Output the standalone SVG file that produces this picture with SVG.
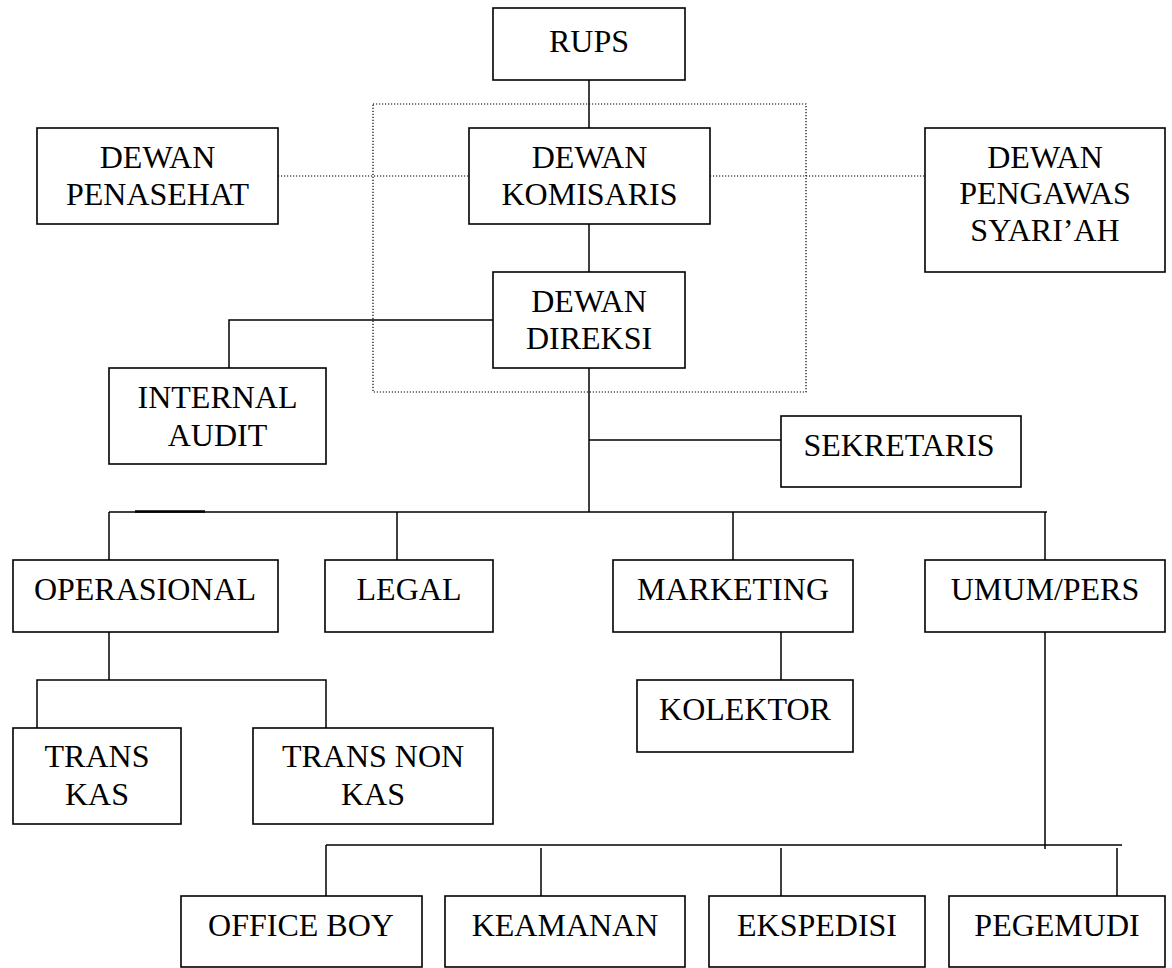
<svg xmlns="http://www.w3.org/2000/svg" width="1172" height="968" viewBox="0 0 1172 968">
<style>
.box{fill:#fff;stroke:#000;stroke-width:1.6}
.t{font-family:"Liberation Serif","Times New Roman",serif;font-size:32px;fill:#000;text-anchor:middle}
.ln{stroke:#000;stroke-width:1.5;fill:none}
.dot{stroke:#000;stroke-width:1.2;fill:none;stroke-dasharray:1.2 1.8}
</style>
<rect width="1172" height="968" fill="#fff"/>
<g id="connectors">
<rect class="dot" x="373" y="104" width="433" height="288"/>
<line class="dot" x1="278" y1="176" x2="469" y2="176"/>
<line class="dot" x1="710" y1="176" x2="925" y2="176"/>
<line class="ln" x1="589" y1="80" x2="589" y2="128"/>
<line class="ln" x1="589" y1="224" x2="589" y2="272"/>
<polyline class="ln" points="493,320 229,320 229,368"/>
<line class="ln" x1="589" y1="368" x2="589" y2="512"/>
<line class="ln" x1="589" y1="440" x2="781" y2="440"/>
<line class="ln" x1="109" y1="512" x2="1047" y2="512"/>
<line stroke="#000" stroke-width="2.6" x1="135" y1="511.5" x2="205" y2="511.5"/>
<line class="ln" x1="109" y1="512" x2="109" y2="560"/>
<line class="ln" x1="397" y1="512" x2="397" y2="560"/>
<line class="ln" x1="733" y1="512" x2="733" y2="560"/>
<line class="ln" x1="1045" y1="512" x2="1045" y2="560"/>
<line class="ln" x1="109" y1="632" x2="109" y2="680"/>
<polyline class="ln" points="37,728 37,680 326,680 326,728"/>
<line class="ln" x1="781" y1="632" x2="781" y2="680"/>
<line class="ln" x1="1045" y1="632" x2="1045" y2="849"/>
<line class="ln" x1="326" y1="845" x2="1122" y2="845"/>
<line class="ln" x1="326" y1="845" x2="326" y2="896"/>
<line class="ln" x1="541" y1="848" x2="541" y2="896"/>
<line class="ln" x1="781" y1="848" x2="781" y2="896"/>
<line class="ln" x1="1117" y1="848" x2="1117" y2="896"/>
</g>
<g id="rups"><rect class="box" x="493" y="8" width="192" height="72"/><text class="t" x="589" y="52">RUPS</text></g>
<g id="penasehat"><rect class="box" x="37" y="128" width="241" height="96"/><text class="t" x="157.5" y="168">DEWAN</text><text class="t" x="157.5" y="205">PENASEHAT</text></g>
<g id="komisaris"><rect class="box" x="469" y="128" width="241" height="96"/><text class="t" x="589.5" y="168">DEWAN</text><text class="t" x="589.5" y="205">KOMISARIS</text></g>
<g id="pengawas"><rect class="box" x="925" y="128" width="240" height="144"/><text class="t" x="1045" y="168">DEWAN</text><text class="t" x="1045" y="204">PENGAWAS</text><text class="t" x="1045" y="241">SYARI’AH</text></g>
<g id="direksi"><rect class="box" x="493" y="272" width="192" height="96"/><text class="t" x="589" y="312">DEWAN</text><text class="t" x="589" y="349">DIREKSI</text></g>
<g id="audit"><rect class="box" x="109" y="368" width="217" height="96"/><text class="t" x="217.5" y="408">INTERNAL</text><text class="t" x="217.5" y="446">AUDIT</text></g>
<g id="sekretaris"><rect class="box" x="781" y="416" width="240" height="71"/><text class="t" x="899" y="456">SEKRETARIS</text></g>
<g id="operasional"><rect class="box" x="13" y="560" width="265" height="72"/><text class="t" x="145" y="600">OPERASIONAL</text></g>
<g id="legal"><rect class="box" x="325" y="560" width="168" height="72"/><text class="t" x="409" y="600">LEGAL</text></g>
<g id="marketing"><rect class="box" x="613" y="560" width="240" height="72"/><text class="t" x="733" y="600">MARKETING</text></g>
<g id="umum"><rect class="box" x="925" y="560" width="240" height="72"/><text class="t" x="1045" y="600">UMUM/PERS</text></g>
<g id="kolektor"><rect class="box" x="637" y="680" width="216" height="72"/><text class="t" x="745" y="720">KOLEKTOR</text></g>
<g id="transkas"><rect class="box" x="13" y="728" width="168" height="96"/><text class="t" x="97" y="767">TRANS</text><text class="t" x="97" y="805">KAS</text></g>
<g id="transnonkas"><rect class="box" x="253" y="728" width="240" height="96"/><text class="t" x="373" y="767">TRANS NON</text><text class="t" x="373" y="805">KAS</text></g>
<g id="officeboy"><rect class="box" x="181" y="896" width="241" height="71"/><text class="t" x="301" y="936">OFFICE BOY</text></g>
<g id="keamanan"><rect class="box" x="445" y="896" width="240" height="71"/><text class="t" x="565" y="936">KEAMANAN</text></g>
<g id="ekspedisi"><rect class="box" x="709" y="896" width="216" height="71"/><text class="t" x="817" y="936">EKSPEDISI</text></g>
<g id="pegemudi"><rect class="box" x="949" y="896" width="216" height="71"/><text class="t" x="1057" y="936">PEGEMUDI</text></g>
</svg>
